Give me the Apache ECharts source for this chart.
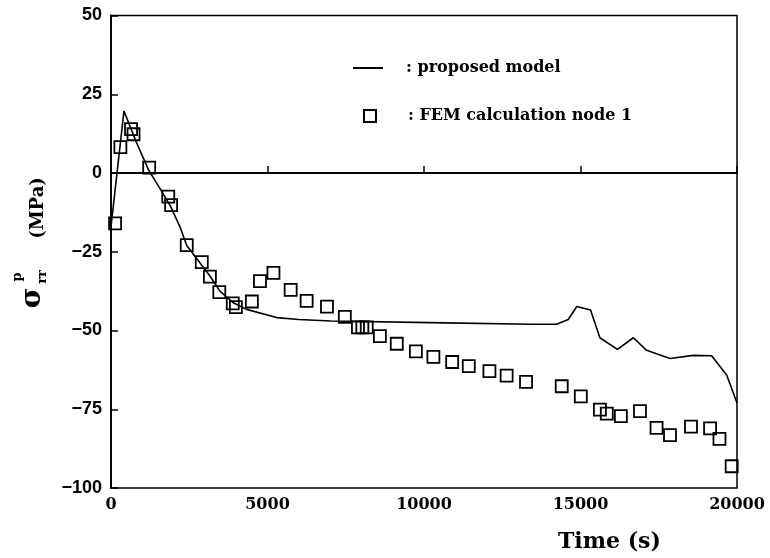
<!DOCTYPE html>
<html>
<head>
<meta charset="utf-8">
<script src="https://cdn.jsdelivr.net/npm/echarts@6/dist/echarts.min.js"></script>
<style>
html,body{margin:0;padding:0;background:#fff;}
#chart{width:770px;height:558px;}
</style>
</head>
<body>
<div id="chart"></div>
<script>
// Proposed model (line)
const modelTime = [0, 415, 800, 1200, 1600, 1900, 2200, 2420, 2840, 3160, 3480, 3910, 4330, 5290, 6000, 7030, 10190, 13390, 14240, 14610, 14880, 15320, 15620, 16180, 16690, 17110, 17860, 18600, 19190, 19670, 20000];
const modelValue = [-17, 19.7, 10, 1, -5.5, -10.5, -17, -23, -28.5, -32.7, -37.5, -41.2, -43.3, -45.9, -46.5, -47, -47.5, -48, -48, -46.5, -42.4, -43.5, -52.3, -56, -52.3, -56.3, -58.9, -57.9, -58, -64.1, -73];
// FEM calculation node 1 (squares)
const femTime = [130, 300, 640, 720, 1220, 1830, 1920, 2420, 2900, 3160, 3460, 3890, 3990, 4500, 4760, 5190, 5740, 6250, 6900, 7470, 7890, 8030, 8170, 8590, 9130, 9740, 10300, 10900, 11430, 12090, 12640, 13260, 14400, 15010, 15620, 15840, 16290, 16900, 17430, 17860, 18530, 19140, 19440, 19830];
const femValue = [-16.0, 8.2, 13.9, 12.3, 1.7, -7.5, -10.2, -22.9, -28.3, -32.9, -37.8, -41.4, -42.6, -40.8, -34.3, -31.7, -37.1, -40.6, -42.4, -45.7, -49.0, -49.0, -49.0, -51.8, -54.2, -56.6, -58.4, -60.0, -61.3, -62.9, -64.3, -66.3, -67.7, -70.9, -75.1, -76.4, -77.2, -75.6, -80.9, -83.2, -80.5, -81.1, -84.4, -93.1];
const seriesNames = ['proposed model', 'FEM calculation node 1'];
const xLabel = 'Time (s)';
const yUnit = '(MPa)';

const chart = echarts.init(document.getElementById('chart'), null, {renderer: 'canvas'});
const ink = '#000';
const serifBold = {fontFamily: 'DejaVu Serif', fontWeight: 'bold', color: ink};

const option = {
  backgroundColor: '#fff',
  animation: false,
  grid: {left: 111, right: 33, top: 15.5, bottom: 70, show: true, borderColor: ink, borderWidth: 1.5, backgroundColor: 'transparent'},
  xAxis: {
    type: 'value', min: 0, max: 20000, interval: 5000,
    axisLine: {show: true, lineStyle: {color: ink, width: 1.8}},
    axisTick: {show: true, inside: true, length: 7, lineStyle: {color: ink, width: 1.5}},
    axisLabel: {margin: 9, fontSize: 16, fontFamily: 'DejaVu Serif', fontWeight: 'bold', color: ink,
      formatter: v => String(v)},
    splitLine: {show: false}
  },
  yAxis: {
    type: 'value', min: -100, max: 50, interval: 25,
    axisLine: {show: true, lineStyle: {color: ink, width: 1.8}},
    axisTick: {show: true, inside: true, length: 7, lineStyle: {color: ink, width: 1.5}},
    axisLabel: {margin: 9, fontSize: 18, fontFamily: 'Liberation Sans', fontWeight: 'bold', color: ink,
      formatter: v => v < 0 ? '\u2212' + (-v) : String(v)},
    splitLine: {show: false}
  },
  legend: [
    {data: [{name: seriesNames[0], icon: 'rect'}], left: 348, top: 55, itemWidth: 30, itemHeight: 2,
     formatter: n => ': ' + n, textStyle: Object.assign({fontSize: 16, padding: [0, 0, 0, 18]}, serifBold)},
    {data: [seriesNames[1]], left: 358, top: 103, itemWidth: 12, itemHeight: 12,
     formatter: n => ': ' + n, textStyle: Object.assign({fontSize: 16, padding: [0, 0, 0, 27]}, serifBold)}
  ],
  graphic: [
    {type: 'text', left: 558, top: 531, style: {text: xLabel, fontSize: 22, fontFamily: 'DejaVu Serif', fontWeight: 'bold', fill: ink}},
    {type: 'text', x: 33, y: 298, rotation: Math.PI / 2, style: {text: 'σ', fontSize: 28, fontFamily: 'DejaVu Serif', fontWeight: 'bold', fill: ink, align: 'center', verticalAlign: 'middle'}},
    {type: 'text', x: 18, y: 277, rotation: Math.PI / 2, style: {text: 'p', fontSize: 13, fontFamily: 'DejaVu Serif', fontWeight: 'bold', fill: ink, align: 'center', verticalAlign: 'middle'}},
    {type: 'text', x: 43, y: 277, rotation: Math.PI / 2, style: {text: 'rr', fontSize: 13, fontFamily: 'DejaVu Serif', fontWeight: 'bold', fill: ink, align: 'center', verticalAlign: 'middle'}},
    {type: 'text', x: 38, y: 208, rotation: Math.PI / 2, style: {text: yUnit, fontSize: 18, fontFamily: 'DejaVu Serif', fontWeight: 'bold', fill: ink, align: 'center', verticalAlign: 'middle'}}
  ],
  series: [
    {
      name: seriesNames[0], type: 'line', symbol: 'none', showSymbol: false, z: 3,
      data: modelTime.map((t, i) => [t, modelValue[i]]),
      lineStyle: {color: ink, width: 1.6},
      itemStyle: {color: ink},
      markLine: {silent: true, symbol: 'none', label: {show: false},
        lineStyle: {color: ink, width: 1.8, type: 'solid'}, data: [{yAxis: 0}]}
    },
    {
      name: seriesNames[1], type: 'scatter', symbol: 'rect', symbolSize: 12, z: 4,
      data: femTime.map((t, i) => [t, femValue[i]]),
      itemStyle: {color: 'rgba(255,255,255,0)', borderColor: ink, borderWidth: 1.8, opacity: 1}
    }
  ]
};
chart.setOption(option);
</script>
</body>
</html>
